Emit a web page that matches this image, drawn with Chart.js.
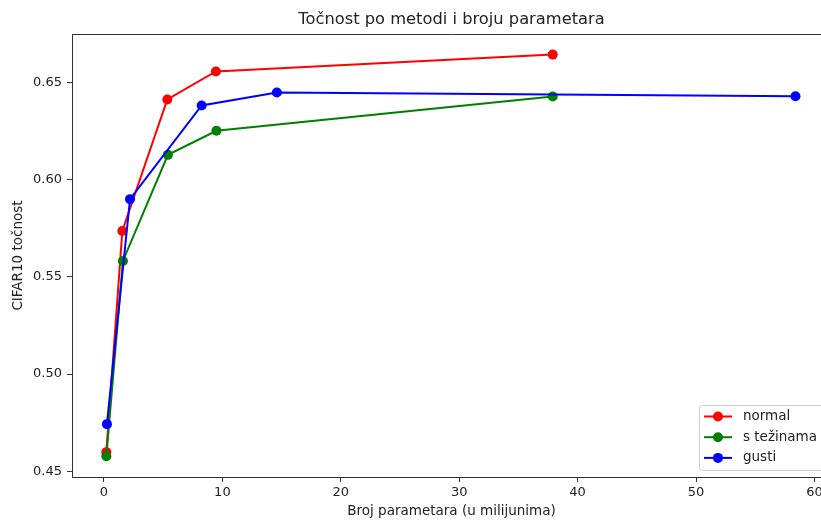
<!DOCTYPE html>
<html>
<head>
<meta charset="utf-8">
<script src="https://cdn.jsdelivr.net/npm/chart.js@4/dist/chart.umd.min.js"></script>
<style>
html,body{margin:0;padding:0;overflow:hidden;background:#fff;width:821px;height:523px;}
#wrap{position:absolute;left:0;top:0;width:840px;height:523px;}
</style>
</head>
<body>
<div id="wrap"><canvas id="c" width="840" height="523" style="width:840px;height:523px"></canvas></div>
<script>
const chartTitle = "Točnost po metodi i broju parametara";
const xLabel = "Broj parametara (u milijunima)";
const yLabel = "CIFAR10 točnost";
const seriesNames = ["normal", "s težinama", "gusti"];
const seriesColors = ["#ff0000", "#008000", "#0000ff"];

const normalX = [0.2, 1.55, 5.35, 9.45, 37.9];
const normalY = [0.4598, 0.5736, 0.6413, 0.6557, 0.6644];
const tezX = [0.2, 1.6, 5.4, 9.5, 37.9];
const tezY = [0.4577, 0.5582, 0.6128, 0.6252, 0.6428];
const gustiX = [0.25, 2.2, 8.25, 14.6, 58.4];
const gustiY = [0.4742, 0.5900, 0.6382, 0.6449, 0.6430];

const xTicks = [0, 10, 20, 30, 40, 50, 60];
const yTicks = [0.45, 0.50, 0.55, 0.60, 0.65];

function pts(xs, ys){ return xs.map((x,i)=>({x:x, y:ys[i]})); }
const allX = [normalX, tezX, gustiX];
const allY = [normalY, tezY, gustiY];

const FONT = "'DejaVu Sans', sans-serif";

const datasets = seriesNames.map((n,i)=>({
  label: n,
  data: pts(allX[i], allY[i]),
  borderColor: seriesColors[i],
  backgroundColor: seriesColors[i],
  pointBackgroundColor: seriesColors[i],
  pointBorderColor: seriesColors[i],
  pointRadius: 5,
  pointBorderWidth: 0,
  borderWidth: 2,
  tension: 0,
  fill: false,
  order: 2 - i
}));

const framePlugin = {
  id: 'frame',
  afterDraw(chart){
    const ctx = chart.ctx, a = chart.chartArea;
    ctx.save();
    ctx.strokeStyle = '#333';
    ctx.lineWidth = 1;
    ctx.beginPath();
    ctx.moveTo(a.left, a.top + 0.5);
    ctx.lineTo(a.right, a.top + 0.5);
    ctx.moveTo(a.right - 0.5, a.top);
    ctx.lineTo(a.right - 0.5, a.bottom);
    ctx.stroke();
    // title
    ctx.fillStyle = '#222';
    ctx.font = "16.3px " + FONT;
    ctx.textAlign = 'center';
    ctx.textBaseline = 'middle';
    ctx.fillText(chartTitle, (a.left + a.right)/2, 20);
    // legend
    ctx.font = "13.5px " + FONT;
    let tw = 0;
    seriesNames.forEach(n => { tw = Math.max(tw, ctx.measureText(n).width); });
    const w = 5 + 28 + 11 + tw + 7;
    const rowH = 20.7;
    const h = 65;
    const right = a.right - 7, bottom = a.bottom - 7;
    const left = right - w, top = bottom - h;
    ctx.beginPath();
    if (ctx.roundRect) ctx.roundRect(left + 0.5, top + 0.5, w, h, 3); else ctx.rect(left+0.5, top+0.5, w, h);
    ctx.fillStyle = 'rgba(255,255,255,0.85)';
    ctx.fill();
    ctx.strokeStyle = '#cccccc';
    ctx.lineWidth = 1;
    ctx.stroke();
    seriesNames.forEach((n,i)=>{
      const cy = top + 11.5 + i*rowH;
      ctx.strokeStyle = seriesColors[i];
      ctx.lineWidth = 2;
      ctx.beginPath();
      ctx.moveTo(left + 5, cy);
      ctx.lineTo(left + 33, cy);
      ctx.stroke();
      ctx.fillStyle = seriesColors[i];
      ctx.beginPath();
      ctx.arc(left + 19, cy, 5, 0, Math.PI*2);
      ctx.fill();
      ctx.fillStyle = '#222';
      ctx.textAlign = 'left';
      ctx.textBaseline = 'middle';
      ctx.fillText(n, left + 44, cy);
    });
    ctx.restore();
  }
};

new Chart(document.getElementById('c'), {
  type: 'line',
  data: { datasets: datasets },
  options: {
    responsive: false,
    animation: false,
    devicePixelRatio: 1,
    layout: { padding: { top: 34, right: 9, left: 0, bottom: 0 } },
    plugins: { legend: { display: false }, title: { display: false }, tooltip: { enabled: false } },
    scales: {
      x: {
        type: 'linear',
        min: -2.7, max: 61.4,
        afterFit(s){ s.height = 46; },
        afterBuildTicks(s){ s.ticks = xTicks.map(v=>({value:v})); },
        grid: { drawOnChartArea: false, drawTicks: true, tickLength: 5, tickColor: '#333' },
        border: { display: true, color: '#333', width: 1 },
        ticks: { color: '#222', font: { family: FONT, size: 13 }, padding: 3, maxRotation: 0, callback: v => String(v) },
        title: { display: true, text: xLabel, color: '#222', font: { family: FONT, size: 13.5 }, padding: { top: 2, bottom: 3 } }
      },
      y: {
        type: 'linear',
        min: 0.447, max: 0.675,
        afterFit(s){ s.width = 72; },
        afterBuildTicks(s){ s.ticks = yTicks.map(v=>({value:v})); },
        grid: { drawOnChartArea: false, drawTicks: true, tickLength: 5, tickColor: '#333' },
        border: { display: true, color: '#333', width: 1 },
        ticks: { color: '#222', font: { family: FONT, size: 13 }, padding: 5, callback: v => v.toFixed(2) },
        title: { display: true, text: yLabel, color: '#222', font: { family: FONT, size: 13.5 }, padding: { top: 10, bottom: 0 } }
      }
    }
  },
  plugins: [framePlugin]
});
</script>
</body>
</html>
